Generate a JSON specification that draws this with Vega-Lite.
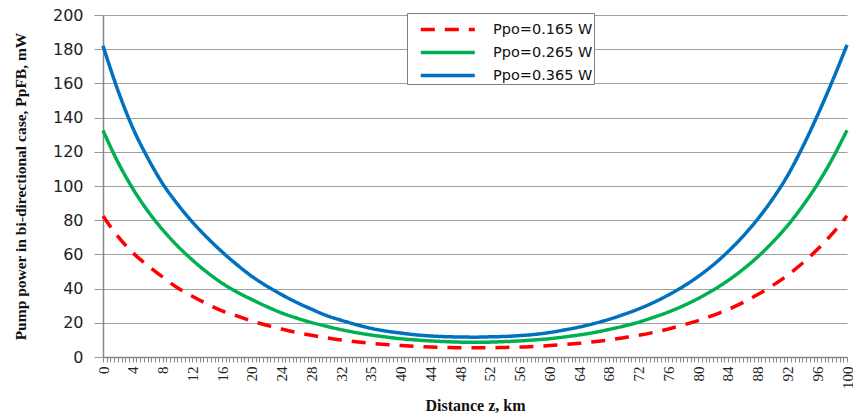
{
  "$schema": "https://vega.github.io/schema/vega-lite/v6.json",
  "width": 744,
  "height": 342,
  "autosize": "none",
  "padding": {"left": 103, "top": 15, "right": 6, "bottom": 63},
  "background": "white",
  "config": {"view": {"stroke": null}},
  "data": {"values": [
    {"z":0,"s":"0.165","p":82.5},{"z":2,"s":"0.165","p":70.5},{"z":4,"s":"0.165","p":61},{"z":6,"s":"0.165","p":53.5},{"z":8,"s":"0.165","p":46.8},{"z":10,"s":"0.165","p":40.5},{"z":12,"s":"0.165","p":35.5},{"z":14,"s":"0.165","p":31},{"z":16,"s":"0.165","p":27},{"z":18,"s":"0.165","p":24},{"z":20,"s":"0.165","p":21},{"z":22,"s":"0.165","p":18.6},{"z":24,"s":"0.165","p":16.4},{"z":26,"s":"0.165","p":14.4},{"z":28,"s":"0.165","p":12.7},{"z":30,"s":"0.165","p":11.3},{"z":32,"s":"0.165","p":10},{"z":34,"s":"0.165","p":8.9},{"z":36,"s":"0.165","p":8},{"z":38,"s":"0.165","p":7.3},{"z":40,"s":"0.165","p":6.7},{"z":42,"s":"0.165","p":6.2},{"z":44,"s":"0.165","p":5.8},{"z":46,"s":"0.165","p":5.6},{"z":48,"s":"0.165","p":5.4},{"z":50,"s":"0.165","p":5.4},
    {"z":52,"s":"0.165","p":5.4},{"z":54,"s":"0.165","p":5.6},{"z":56,"s":"0.165","p":5.8},{"z":58,"s":"0.165","p":6.2},{"z":60,"s":"0.165","p":6.7},{"z":62,"s":"0.165","p":7.3},{"z":64,"s":"0.165","p":8},{"z":66,"s":"0.165","p":8.9},{"z":68,"s":"0.165","p":10},{"z":70,"s":"0.165","p":11.3},{"z":72,"s":"0.165","p":12.7},{"z":74,"s":"0.165","p":14.4},{"z":76,"s":"0.165","p":16.4},{"z":78,"s":"0.165","p":18.7},{"z":80,"s":"0.165","p":21.3},{"z":82,"s":"0.165","p":24.3},{"z":84,"s":"0.165","p":27.8},{"z":86,"s":"0.165","p":31.8},{"z":88,"s":"0.165","p":36.5},{"z":90,"s":"0.165","p":41.8},{"z":92,"s":"0.165","p":47.8},{"z":94,"s":"0.165","p":54.8},{"z":96,"s":"0.165","p":62.8},{"z":98,"s":"0.165","p":72},{"z":100,"s":"0.165","p":82.6},
    {"z":0,"s":"0.265","p":132.5},{"z":2,"s":"0.265","p":114},{"z":4,"s":"0.265","p":98.5},{"z":6,"s":"0.265","p":85.5},{"z":8,"s":"0.265","p":74.5},{"z":10,"s":"0.265","p":65},{"z":12,"s":"0.265","p":56.8},{"z":14,"s":"0.265","p":49.5},{"z":16,"s":"0.265","p":43.2},{"z":18,"s":"0.265","p":38},{"z":20,"s":"0.265","p":33.6},{"z":22,"s":"0.265","p":29.5},{"z":24,"s":"0.265","p":25.8},{"z":26,"s":"0.265","p":22.8},{"z":28,"s":"0.265","p":20.2},{"z":30,"s":"0.265","p":18},{"z":32,"s":"0.265","p":16},{"z":34,"s":"0.265","p":14.3},{"z":36,"s":"0.265","p":12.9},{"z":38,"s":"0.265","p":11.7},{"z":40,"s":"0.265","p":10.7},{"z":42,"s":"0.265","p":10},{"z":44,"s":"0.265","p":9.4},{"z":46,"s":"0.265","p":9},{"z":48,"s":"0.265","p":8.7},{"z":50,"s":"0.265","p":8.6},
    {"z":52,"s":"0.265","p":8.7},{"z":54,"s":"0.265","p":9},{"z":56,"s":"0.265","p":9.4},{"z":58,"s":"0.265","p":10},{"z":60,"s":"0.265","p":10.7},{"z":62,"s":"0.265","p":11.7},{"z":64,"s":"0.265","p":12.9},{"z":66,"s":"0.265","p":14.3},{"z":68,"s":"0.265","p":16.1},{"z":70,"s":"0.265","p":18.1},{"z":72,"s":"0.265","p":20.4},{"z":74,"s":"0.265","p":23.2},{"z":76,"s":"0.265","p":26.3},{"z":78,"s":"0.265","p":30},{"z":80,"s":"0.265","p":34.2},{"z":82,"s":"0.265","p":39.1},{"z":84,"s":"0.265","p":44.7},{"z":86,"s":"0.265","p":51.2},{"z":88,"s":"0.265","p":58.6},{"z":90,"s":"0.265","p":67.1},{"z":92,"s":"0.265","p":76.8},{"z":94,"s":"0.265","p":88.1},{"z":96,"s":"0.265","p":100.9},{"z":98,"s":"0.265","p":115.7},{"z":100,"s":"0.265","p":132.6},
    {"z":0,"s":"0.365","p":182},{"z":2,"s":"0.365","p":156},{"z":4,"s":"0.365","p":134},{"z":6,"s":"0.365","p":116.5},{"z":8,"s":"0.365","p":101.5},{"z":10,"s":"0.365","p":89.5},{"z":12,"s":"0.365","p":79},{"z":14,"s":"0.365","p":69.8},{"z":16,"s":"0.365","p":61.5},{"z":18,"s":"0.365","p":54},{"z":20,"s":"0.365","p":47.2},{"z":22,"s":"0.365","p":41.5},{"z":24,"s":"0.365","p":36.5},{"z":26,"s":"0.365","p":32},{"z":28,"s":"0.365","p":28},{"z":30,"s":"0.365","p":24.3},{"z":32,"s":"0.365","p":21.5},{"z":34,"s":"0.365","p":19},{"z":36,"s":"0.365","p":16.8},{"z":38,"s":"0.365","p":15.2},{"z":40,"s":"0.365","p":14},{"z":42,"s":"0.365","p":13},{"z":44,"s":"0.365","p":12.3},{"z":46,"s":"0.365","p":11.9},{"z":48,"s":"0.365","p":11.7},{"z":50,"s":"0.365","p":11.6},
    {"z":52,"s":"0.365","p":11.8},{"z":54,"s":"0.365","p":12},{"z":56,"s":"0.365","p":12.5},{"z":58,"s":"0.365","p":13.2},{"z":60,"s":"0.365","p":14.3},{"z":62,"s":"0.365","p":15.8},{"z":64,"s":"0.365","p":17.5},{"z":66,"s":"0.365","p":19.6},{"z":68,"s":"0.365","p":22},{"z":70,"s":"0.365","p":24.9},{"z":72,"s":"0.365","p":28.1},{"z":74,"s":"0.365","p":31.9},{"z":76,"s":"0.365","p":36.3},{"z":78,"s":"0.365","p":41.3},{"z":80,"s":"0.365","p":47.1},{"z":82,"s":"0.365","p":53.8},{"z":84,"s":"0.365","p":61.6},{"z":86,"s":"0.365","p":70.5},{"z":88,"s":"0.365","p":80.7},{"z":90,"s":"0.365","p":92.4},{"z":92,"s":"0.365","p":106},{"z":94,"s":"0.365","p":122.5},{"z":96,"s":"0.365","p":141},{"z":98,"s":"0.365","p":161},{"z":100,"s":"0.365","p":182.5}
  ]},
  "mark": {"type": "line", "strokeWidth": 3.5, "strokeCap": "butt", "strokeJoin": "round", "interpolate": "monotone"},
  "encoding": {
    "x": {
      "field": "z", "type": "quantitative",
      "scale": {"domain": [0, 100], "nice": false},
      "axis": {
        "tickCount": 200,
        "labelExpr": "datum.value == 36 ? '35' : (datum.value % 4 == 0 ? format(datum.value, 'd') : '')",
        "labelOverlap": false, "labelFlush": false, "labelBound": false,
        "labelAngle": -90,
        "labelFont": "Liberation Serif", "labelFontSize": 15, "labelColor": "#222",
        "labelPadding": 4,
        "tickSize": 5, "tickColor": "#888",
        "domainColor": "#888", "domainWidth": 1.5,
        "grid": false,
        "title": "Distance z, km",
        "titleFont": "Liberation Serif", "titleFontSize": 16, "titleFontWeight": "bold", "titleColor": "#111",
        "titlePadding": 9
      }
    },
    "y": {
      "field": "p", "type": "quantitative",
      "scale": {"domain": [0, 200], "nice": false},
      "axis": {
        "values": [0, 20, 40, 60, 80, 100, 120, 140, 160, 180, 200],
        "labelFont": "DejaVu Sans", "labelFontSize": 16, "labelColor": "#222",
        "labelPadding": 11,
        "tickSize": 9, "tickColor": "#999",
        "domainColor": "#888", "domainWidth": 1.5,
        "grid": true, "gridColor": "#A0A0A0", "gridWidth": 1,
        "title": "Pump power in bi-directional case, PpFB, mW",
        "titleFont": "Liberation Serif", "titleFontSize": 15.5, "titleFontWeight": "bold", "titleColor": "#111",
        "titlePadding": 24
      }
    },
    "color": {
      "field": "s", "type": "nominal",
      "scale": {"domain": ["0.165", "0.265", "0.365"], "range": ["#FF0000", "#00B050", "#0070C0"]},
      "legend": {
        "title": null,
        "orient": "none", "legendX": 304, "legendY": -2,
        "direction": "vertical",
        "strokeColor": "#808080", "fillColor": "white", "padding": 1,
        "symbolType": "M-0.2,0H3.8", "symbolSize": 729, "symbolStrokeWidth": 3.5,
        "labelExpr": "'Ppo=' + datum.label + ' W'",
        "labelFont": "DejaVu Sans", "labelFontSize": 14.5, "labelColor": "#111",
        "labelOffset": 54, "rowPadding": 0,
        "encode": {"symbols": {"update": {"strokeDash": {"signal": "datum.value == '0.165' ? [18, 17] : [1, 0]"}}}}
      }
    },
    "strokeDash": {
      "field": "s", "type": "nominal",
      "scale": {"domain": ["0.165", "0.265", "0.365"], "range": [[14, 10], [1, 0], [1, 0]]},
      "legend": null
    }
  }
}
